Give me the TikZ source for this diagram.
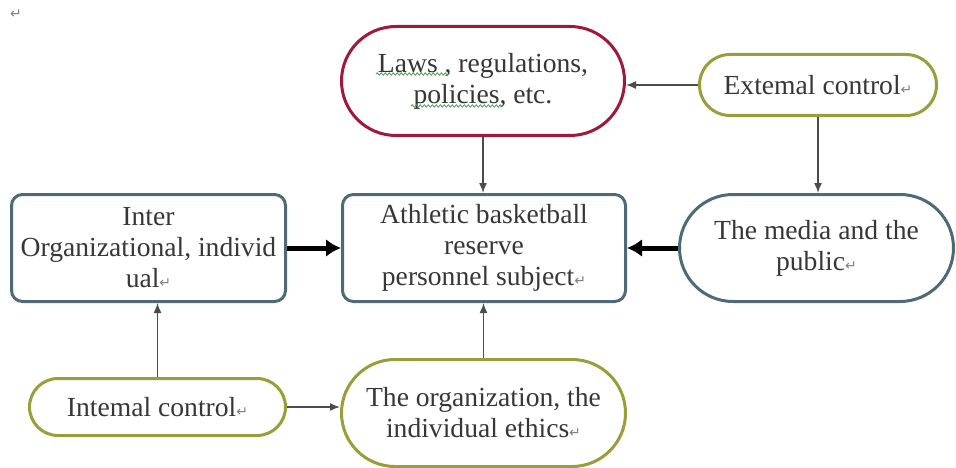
\documentclass[tikz,border=0pt]{standalone}
\usepackage{fontspec}
\setmainfont{Liberation Serif}
\newfontfamily\dejavu{DejaVu Sans}
\usetikzlibrary{shapes.misc,arrows.meta,decorations.pathmorphing}
\definecolor{crim}{RGB}{160,25,60}
\definecolor{olivb}{RGB}{152,158,58}
\definecolor{slate}{RGB}{78,106,120}
\definecolor{txt}{RGB}{55,55,55}
\definecolor{wavy}{RGB}{90,150,90}
\newcommand{\retmark}{{\dejavu\fontsize{14}{14}\selectfont\color{gray}↵}}
\tikzset{
  pill/.style={rounded rectangle, draw=#1, line width=3pt, fill=white, text=txt,
    align=center, font=\fontsize{27.6}{31}\selectfont, inner sep=0pt},
  boxr/.style={rectangle, rounded corners=11pt, draw=slate, line width=3pt, fill=white,
    text=txt, align=center, font=\fontsize{27.6}{31}\selectfont, inner sep=0pt},
  thinarrow/.style={draw=black!70, line width=1.5pt, -{Latex[length=10pt,width=8pt]}},
  thickarrow/.style={draw=black, line width=5pt, -{Latex[length=15pt,width=18pt]}},
  squiggle/.style={draw=wavy, line width=0.8pt, decorate,
    decoration={snake, amplitude=1.2pt, segment length=4pt}}
}
\begin{document}
\begin{tikzpicture}[x=1pt,y=-1pt]
\useasboundingbox (0,0) rectangle (956,468);
\node (mark) at (16,14) {\retmark};
\node[pill=crim, minimum width=283pt, minimum height=109pt] (laws) at (483,81)
  {Laws , regulations,\\ policies, etc.};
\node[pill=olivb, minimum width=237pt, minimum height=61pt] (ext) at (818,85)
  {Extemal control\retmark};
\node[boxr, minimum width=274pt, minimum height=107pt] (inter) at (148.5,248)
  {Inter\\Organizational, individ\\ual\retmark};
\node[boxr, minimum width=283pt, minimum height=107pt] (ath) at (484,248)
  {Athletic basketball\\reserve\\personnel subject\retmark};
\node[pill=slate, minimum width=274pt, minimum height=107pt] (media) at (816.5,248)
  {The media and the\\public\retmark};
\node[pill=olivb, minimum width=256pt, minimum height=57pt] (int) at (157.5,407)
  {Intemal control\retmark};
\node[pill=olivb, minimum width=284pt, minimum height=107pt] (org) at (483.5,413)
  {The organization, the\\individual ethics\retmark};
\draw[squiggle] (376,74) -- (450,74);
\draw[squiggle] (411,106) -- (503,106);
\draw[thinarrow] (ext.west) -- (ext.west -| laws.east);
\draw[thinarrow] (ext.south) -- (ext.south |- media.north);
\draw[thinarrow] (laws.south) -- (laws.south |- ath.north);
\draw[thickarrow] (inter.east) -- (ath.west);
\draw[thickarrow] (media.west) -- (ath.east);
\draw[thinarrow] (int.north) -- (int.north |- inter.south);
\draw[thinarrow] (int.east) -- (org.west |- int.east);
\draw[thinarrow] (org.north) -- (org.north |- ath.south);
\end{tikzpicture}
\end{document}
